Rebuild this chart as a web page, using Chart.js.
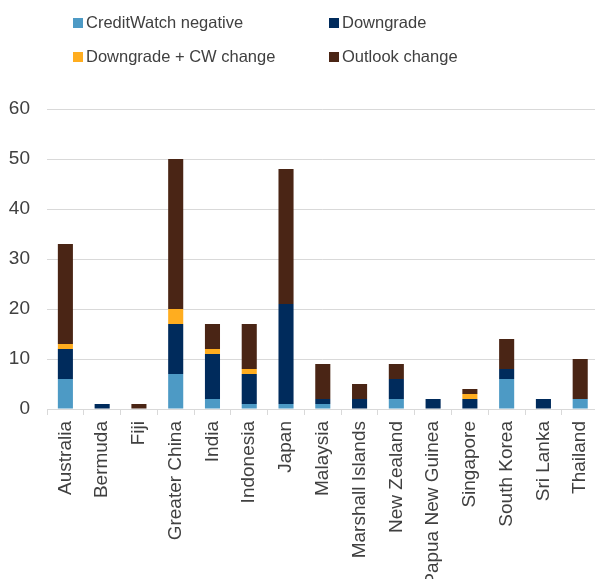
<!DOCTYPE html>
<html>
<head>
<meta charset="utf-8">
<script src="https://cdn.jsdelivr.net/npm/chart.js@4/dist/chart.umd.min.js"></script>
<style>
  body { margin: 0; background: #fff; overflow: hidden; }
  #wrap { position: relative; width: 595px; height: 579px; overflow: hidden; }
  #legend { position: absolute; left: 0; top: 0; width: 595px; height: 80px; font-family: "Liberation Sans", Arial, sans-serif; font-size: 16.5px; color: #404040; }
  .item { position: absolute; display: flex; align-items: center; white-space: nowrap; }
  .sw { width: 10px; height: 10px; margin-right: 3px; }
</style>
</head>
<body>
<div id="wrap">
  <canvas id="chart" width="609" height="579"></canvas>
  <div id="legend"></div>
</div>
<script>
const categories = ["Australia", "Bermuda", "Fiji", "Greater China", "India", "Indonesia", "Japan", "Malaysia", "Marshall Islands", "New Zealand", "Papua New Guinea", "Singapore", "South Korea", "Sri Lanka", "Thailand"];
const creditWatchNegative = [6, 0, 0, 7, 2, 1, 1, 1, 0, 2, 0, 0, 6, 0, 2];
const downgrade = [6, 1, 0, 10, 9, 6, 20, 1, 2, 4, 2, 2, 2, 2, 0];
const downgradeCwChange = [1, 0, 0, 3, 1, 1, 0, 0, 0, 0, 0, 1, 0, 0, 0];
const outlookChange = [20, 0, 1, 30, 5, 9, 27, 7, 3, 3, 0, 1, 6, 0, 8];
const yTicks = [0, 10, 20, 30, 40, 50, 60];

const series = [
  { label: "CreditWatch negative", data: creditWatchNegative, color: "#4d9ac5" },
  { label: "Downgrade", data: downgrade, color: "#002b5c" },
  { label: "Downgrade + CW change", data: downgradeCwChange, color: "#ffad1f" },
  { label: "Outlook change", data: outlookChange, color: "#4a2515" }
];

// legend in two columns like the original
const legendPos = [[73, 24], [329, 24], [73, 58], [329, 58]];
const legend = document.getElementById("legend");
series.forEach((s, i) => {
  const el = document.createElement("div");
  el.className = "item";
  el.style.left = legendPos[i][0] + "px";
  el.style.top = (legendPos[i][1] - 11) + "px";
  el.innerHTML = '<span class="sw" style="background:' + s.color + '"></span><span>' + s.label + '</span>';
  legend.appendChild(el);
});

const font = { family: "'Liberation Sans', Arial, sans-serif", size: 19 };

new Chart(document.getElementById("chart"), {
  type: "bar",
  data: {
    labels: categories,
    datasets: series.map(s => ({
      label: s.label,
      data: s.data,
      backgroundColor: s.color,
      borderWidth: 0,
      categoryPercentage: 1,
      barPercentage: 0.41
    }))
  },
  options: {
    responsive: false,
    animation: false,
    layout: { padding: { top: 109, right: 0, left: 0, bottom: 0 } },
    plugins: { legend: { display: false }, tooltip: { enabled: false } },
    scales: {
      x: {
        stacked: true,
        afterFit: (scale) => { scale.height = 170; },
        grid: { drawOnChartArea: false, drawTicks: true, tickLength: 6, color: "#d9d9d9", offset: true },
        border: { color: "#d9d9d9" },
        ticks: { color: "#404040", font: font, maxRotation: 90, minRotation: 90, autoSkip: false, padding: 6 }
      },
      y: {
        stacked: true,
        min: 0,
        max: 60,
        afterFit: (scale) => { scale.width = 47; },
        afterBuildTicks: (scale) => { scale.ticks = yTicks.map(v => ({ value: v })); },
        grid: { color: "#d9d9d9", drawTicks: false },
        border: { display: false },
        ticks: { color: "#404040", font: font, padding: 17 }
      }
    }
  }
});
</script>
</body>
</html>
